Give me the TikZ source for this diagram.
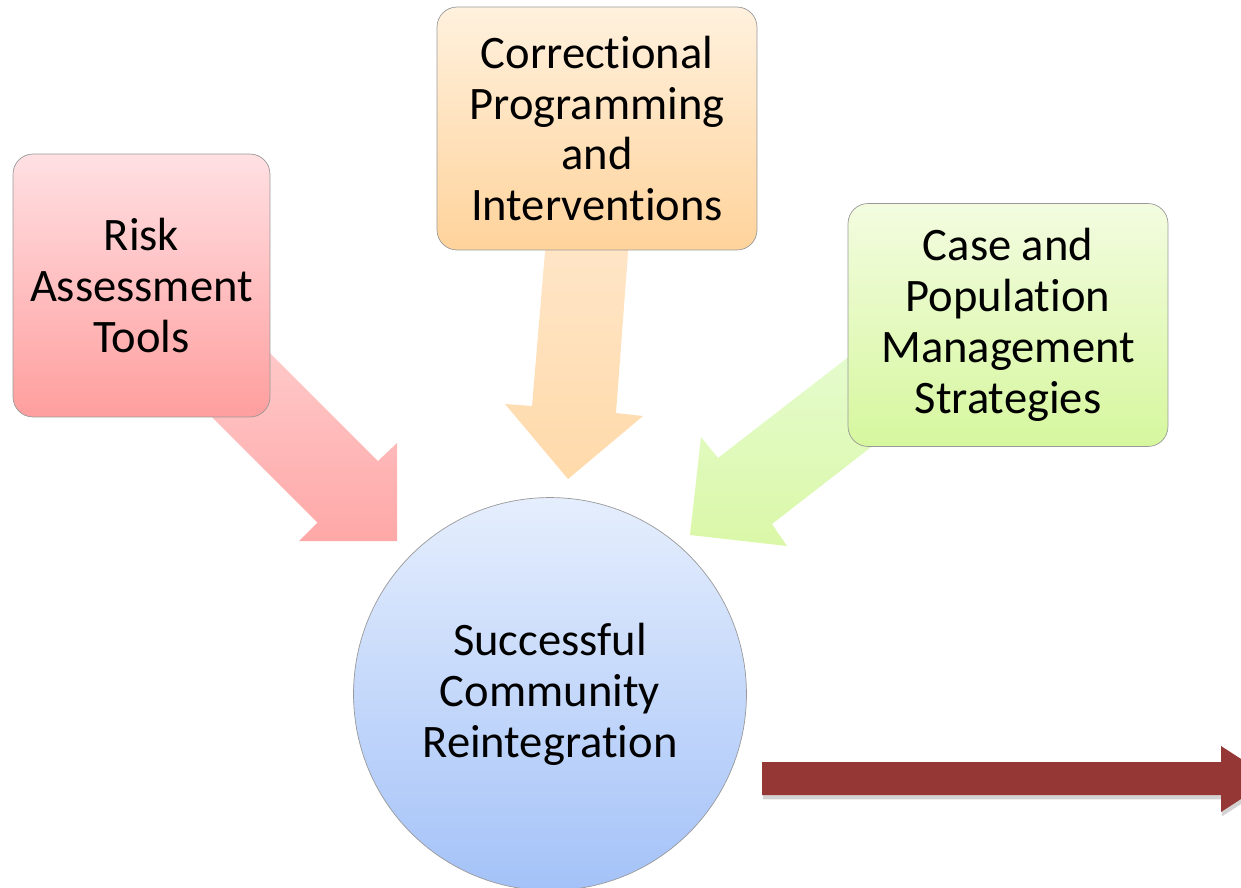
\documentclass[tikz,border=0pt]{standalone}
\usepackage{fontspec}
\setmainfont[Ligatures={NoCommon,NoContextual},Contextuals=NoAlternate]{Carlito}
\usetikzlibrary{backgrounds,shadows}

\definecolor{riskTop}{HTML}{FFE0E3}
\definecolor{riskBot}{HTML}{FF9E9E}
\definecolor{progTop}{HTML}{FFF1DE}
\definecolor{progBot}{HTML}{FFD39B}
\definecolor{caseTop}{HTML}{F3FCE0}
\definecolor{caseBot}{HTML}{D6F79E}
\definecolor{goalTop}{HTML}{E5EEFD}
\definecolor{goalBot}{HTML}{A4C2F8}
\definecolor{outcome}{HTML}{953735}

\begin{document}
\begin{tikzpicture}[
x=0.02cm, y=-0.02cm,
every node/.style={
align=center,
inner sep=0pt,
font=\fontsize{26.5}{29}\selectfont
},
box/.style={
draw=black!40,
rounded corners=0.4cm,
minimum width=6.4cm,
minimum height=4.86cm
}
]

\useasboundingbox (0,0) rectangle (1241,887);
\clip (0,0) rectangle (1241,887);

\node[box, minimum width=5.14cm, minimum height=5.26cm,
  top color=riskTop, bottom color=riskBot] (R) at (141.5,285.5) {Risk\\Assessment\\Tools};
\node[box, top color=progTop, bottom color=progBot] (P) at (597,128.5) {Correctional\\Programming\\and\\Interventions};
\node[box, top color=caseTop, bottom color=caseBot] (C) at (1008,325) {Case and\\Population\\Management\\Strategies};

\node[circle, draw=black!40, minimum size=7.86cm,
  top color=goalTop, bottom color=goalBot] (G) at (550,694) {Successful\\Community\\Reintegration};

\coordinate (RT) at (397,541);
\coordinate (PT) at (568,479);
\coordinate (CT) at (690,535);

\begin{pgfonlayer}{background}
\shade[top color=red!18, bottom color=riskBot!90]
  (218.5,301.5) -- (378,461) -- (397,443) -- (RT) -- (299,541) -- (317.5,522.5) -- (157.5,362.5) -- cycle;
\shade[top color=progTop!90!orange, bottom color=progBot!85]
  (546,240) -- (532,406) -- (505,404) -- (PT) -- (643,416) -- (616,413) -- (629,240) -- cycle;
\shade[top color=caseTop!95!green, bottom color=caseBot!90]
  (900,317) -- (718,458) -- (701,437) -- (CT) -- (787,546) -- (772,524) -- (915,413) -- cycle;
\end{pgfonlayer}

\fill[outcome, drop shadow={opacity=0.35, shadow xshift=0.5pt, shadow yshift=-2.5pt}]
  (762,762) -- (1221,762) -- (1221,746) -- (1272,779) -- (1221,812) -- (1221,795) -- (762,795) -- cycle;

\end{tikzpicture}
\end{document}
